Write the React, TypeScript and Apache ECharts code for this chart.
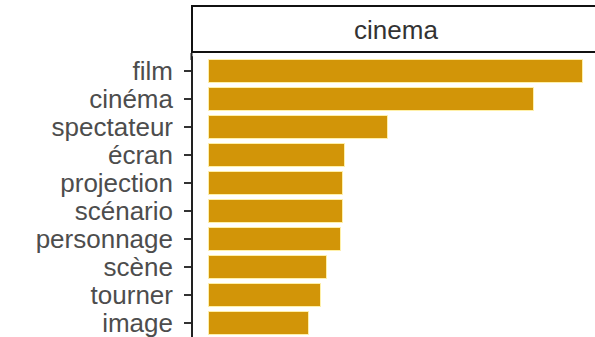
import React, { useEffect, useRef } from "react";
import * as echarts from "echarts";

const categories = ["film", "cinéma", "spectateur", "écran", "projection", "scénario", "personnage", "scène", "tourner", "image"];
const values = [375, 326, 180, 137, 135, 135, 133, 119, 113, 101];
const facetTitle = "cinema";

export default function App() {
  const ref = useRef<HTMLDivElement>(null);
  useEffect(() => {
    if (!ref.current) return;
    const chart = echarts.init(ref.current, undefined, { renderer: "svg" });
    const gridTop = 57;
    const gridHeight = 280;
    const baseGraphic: any[] = [
      {
        id: "axisTop",
        type: "line",
        shape: { x1: 191.5, y1: 53, x2: 191.5, y2: 60 },
        style: { stroke: "#222222", lineWidth: 2 },
      },
      {
        id: "strip",
        type: "rect",
        shape: { x: 192, y: 6, width: 412, height: 46 },
        style: { fill: "#ffffff", stroke: "#111111", lineWidth: 2 },
      },
      {
        id: "stripText",
        type: "text",
        x: 396,
        y: 30,
        style: {
          text: facetTitle,
          fill: "#333333",
          font: "26px 'Liberation Sans', Arial, sans-serif",
          align: "center",
          verticalAlign: "middle",
        },
      },
    ];
    chart.setOption({
      animation: false,
      backgroundColor: "#ffffff",
      grid: { left: 208, top: gridTop, right: 0, height: gridHeight, containLabel: false },
      xAxis: {
        type: "value",
        min: 0,
        max: 387,
        show: false,
        splitLine: { show: false },
      },
      yAxis: {
        type: "category",
        inverse: true,
        offset: 16,
        data: categories,
        axisLine: { show: true, onZero: false, lineStyle: { color: "#222222", width: 2 } },
        axisTick: { show: false },
        axisLabel: {
          interval: 0,
          margin: 19,
          color: "#4d4d4d",
          fontFamily: "Liberation Sans, Arial, sans-serif",
          fontSize: 26,
        },
        splitLine: { show: false },
      },
      series: [
        {
          type: "bar",
          data: values,
          barWidth: 24,
          itemStyle: { color: "#D29508", borderColor: "#FFF0A8", borderWidth: 1 },
        },
      ],
      graphic: baseGraphic,
    });
    const ticks = categories.map((c, i) => {
      let y = NaN;
      try {
        const p = chart.convertToPixel({ gridIndex: 0 }, [0, i]) as any;
        y = Array.isArray(p) ? Number(p[1]) : NaN;
      } catch (e) {
        y = NaN;
      }
      if (!isFinite(y)) y = gridTop + ((i + 0.5) * gridHeight) / categories.length;
      return {
        id: "tick" + i,
        type: "rect",
        shape: { x: 184, y: Math.round(y) - 1, width: 7, height: 2 },
        style: { fill: "#333333" },
        z: 100,
      };
    });
    chart.setOption({ graphic: [...baseGraphic, ...ticks] });
    return () => chart.dispose();
  }, []);
  return <div ref={ref} style={{ position: "fixed", left: 0, top: 0, width: 595, height: 337 }} />;
}
